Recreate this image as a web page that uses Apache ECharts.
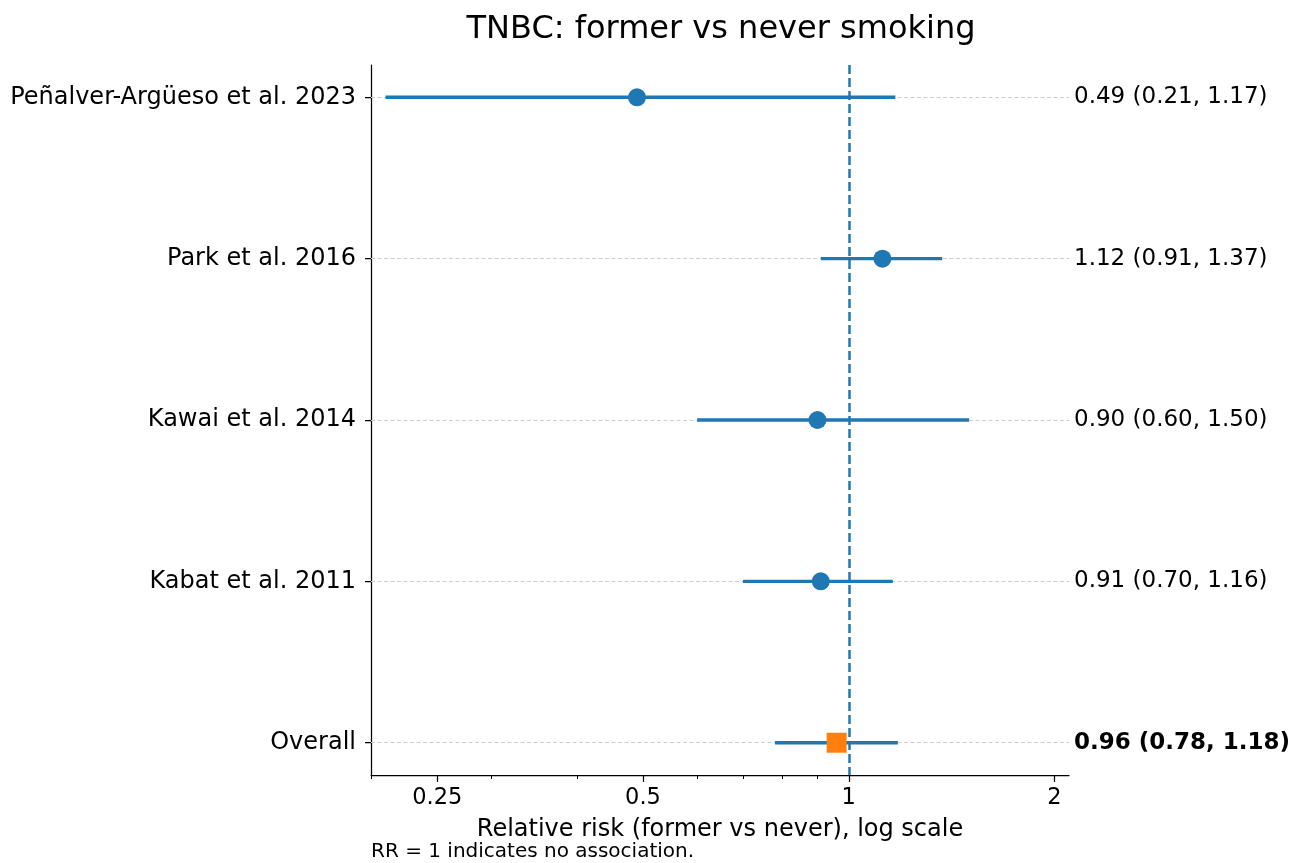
<!DOCTYPE html>
<html>
<head>
<meta charset="utf-8">
<script src="https://cdn.jsdelivr.net/npm/echarts@6/dist/echarts.min.js"></script>
<style>
  html, body { margin: 0; padding: 0; background: #ffffff; }
  #chart { width: 1303px; height: 863px; }
</style>
</head>
<body>
<div id="chart"></div>
<script>
// Study rows, top to bottom
const studies = ['Peñalver-Argüeso et al. 2023', 'Park et al. 2016', 'Kawai et al. 2014', 'Kabat et al. 2011', 'Overall'];
const rr = [0.49, 1.12, 0.90, 0.91, 0.96];
const ciLow = [0.21, 0.91, 0.60, 0.70, 0.78];
const ciHigh = [1.17, 1.37, 1.50, 1.16, 1.18];
const rowPos = [0, 1, 2, 3, 4];
const xTicks = [0.25, 0.5, 1, 2];
const xTickLabels = ['0.25', '0.5', '1', '2'];
const xMinorTicks = [0.2, 0.3, 0.4, 0.6, 0.7, 0.8, 0.9];
const overallIndex = 4;

const BLUE = '#1f77b4';
const ORANGE = '#ff7f0e';
const FONT = 'DejaVu Sans';

const ciText = rr.map((v, i) => v.toFixed(2) + ' (' + ciLow[i].toFixed(2) + ', ' + ciHigh[i].toFixed(2) + ')');

const studyPoints = rowPos.filter(i => i !== overallIndex).map(i => [rr[i], i]);
const overallPoint = [[rr[overallIndex], overallIndex]];
const ciData = rowPos.map(i => [ciLow[i], ciHigh[i], i]);

const chart = echarts.init(document.getElementById('chart'), null, { renderer: 'canvas' });

function labelFor(list) {
  return function (v) {
    const i = Math.round(v);
    return Math.abs(v - i) < 1e-6 && list[i] !== undefined ? list[i] : '';
  };
}

chart.setOption({
  animation: false,
  backgroundColor: '#ffffff',
  textStyle: { fontFamily: FONT },
  title: {
    text: 'TNBC: former vs never smoking',
    left: 716,
    top: 9,
    textAlign: 'center',
    textStyle: { fontFamily: FONT, fontSize: 32, fontWeight: 'normal', color: '#000' }
  },
  grid: { left: 371, right: 234, top: 65, bottom: 88, containLabel: false },
  xAxis: [
    {
      type: 'log',
      logBase: 10,
      min: 0.2,
      max: 2.1,
      position: 'bottom',
      axisLine: { show: true, onZero: false, lineStyle: { color: '#000', width: 1.25 } },
      axisTick: { show: true, customValues: xTicks, length: 7, lineStyle: { color: '#000', width: 1.25 } },
      axisLabel: {
        customValues: xTicks,
        margin: 12,
        fontSize: 22.5,
        fontFamily: FONT,
        color: '#000',
        formatter: function (v) {
          let best = 0;
          xTicks.forEach((t, k) => { if (Math.abs(Math.log(t) - Math.log(v)) < Math.abs(Math.log(xTicks[best]) - Math.log(v))) best = k; });
          return xTickLabels[best];
        }
      },
      splitLine: { show: false },
      name: 'Relative risk (former vs never), log scale',
      nameLocation: 'middle',
      nameGap: 43,
      nameTextStyle: { fontSize: 24, fontFamily: FONT, color: '#000' }
    },
    {
      type: 'log',
      logBase: 10,
      min: 0.2,
      max: 2.1,
      position: 'bottom',
      axisLine: { show: false, onZero: false },
      axisTick: { show: true, customValues: xMinorTicks, length: 4, lineStyle: { color: '#000', width: 1 } },
      axisLabel: { show: false },
      splitLine: { show: false }
    }
  ],
  yAxis: [
    {
      type: 'value',
      inverse: true,
      min: -0.2,
      max: 4.2,
      position: 'left',
      axisLine: { show: true, onZero: false, lineStyle: { color: '#000', width: 1.25 } },
      axisTick: { show: true, customValues: rowPos, length: 6, lineStyle: { color: '#000', width: 1.25 } },
      axisLabel: {
        customValues: rowPos,
        margin: 15,
        fontSize: 24,
        fontFamily: FONT,
        color: '#000',
        formatter: labelFor(studies)
      },
      splitLine: { show: false }
    },
    {
      type: 'value',
      inverse: true,
      min: -0.2,
      max: 4.2,
      position: 'right',
      axisLine: { show: false, onZero: false },
      axisTick: { show: false },
      axisLabel: {
        customValues: rowPos,
        margin: 5,
        fontSize: 23,
        fontFamily: FONT,
        color: '#000',
        formatter: function (v) {
          const i = Math.round(v);
          if (ciText[i] === undefined) return '';
          return i === overallIndex ? '{b|' + ciText[i] + '}' : ciText[i];
        },
        rich: {
          b: { fontSize: 23, fontFamily: FONT, fontWeight: 'bold', color: '#000' }
        }
      },
      splitLine: { show: false }
    }
  ],
  series: [
    {
      // light dashed row guides
      type: 'scatter',
      xAxisIndex: 0,
      yAxisIndex: 0,
      z: 1,
      data: [],
      markLine: {
        silent: true,
        z: 1,
        symbol: 'none',
        label: { show: false },
        lineStyle: { color: '#cfcfcf', type: [4, 2.5], width: 1 },
        data: rowPos.map(i => ({ yAxis: i }))
      }
    },
    {
      // confidence interval whiskers
      type: 'custom',
      xAxisIndex: 0,
      yAxisIndex: 0,
      z: 2,
      data: ciData,
      renderItem: function (params, api) {
        const p1 = api.coord([api.value(0), api.value(2)]);
        const p2 = api.coord([api.value(1), api.value(2)]);
        return {
          type: 'line',
          shape: { x1: p1[0], y1: p1[1], x2: p2[0], y2: p2[1] },
          style: { stroke: BLUE, lineWidth: 3.3, fill: null }
        };
      }
    },
    {
      type: 'scatter',
      xAxisIndex: 0,
      yAxisIndex: 0,
      z: 4,
      symbol: 'circle',
      symbolSize: 18,
      itemStyle: { color: BLUE, opacity: 1 },
      data: studyPoints
    },
    {
      type: 'scatter',
      xAxisIndex: 0,
      yAxisIndex: 0,
      z: 3,
      symbol: 'rect',
      symbolSize: 20,
      itemStyle: { color: ORANGE, opacity: 1 },
      data: overallPoint
    },
    {
      // reference line at RR = 1
      type: 'scatter',
      xAxisIndex: 0,
      yAxisIndex: 0,
      z: 5,
      data: [],
      markLine: {
        silent: true,
        z: 5,
        symbol: 'none',
        label: { show: false },
        lineStyle: { color: BLUE, type: [9, 4], width: 2.5 },
        data: [{ xAxis: 1 }]
      }
    }
  ],
  graphic: [
    {
      type: 'text',
      left: 371,
      top: 842,
      style: { text: 'RR = 1 indicates no association.', font: '20px "DejaVu Sans"', fill: '#000' }
    }
  ]
});
</script>
</body>
</html>
